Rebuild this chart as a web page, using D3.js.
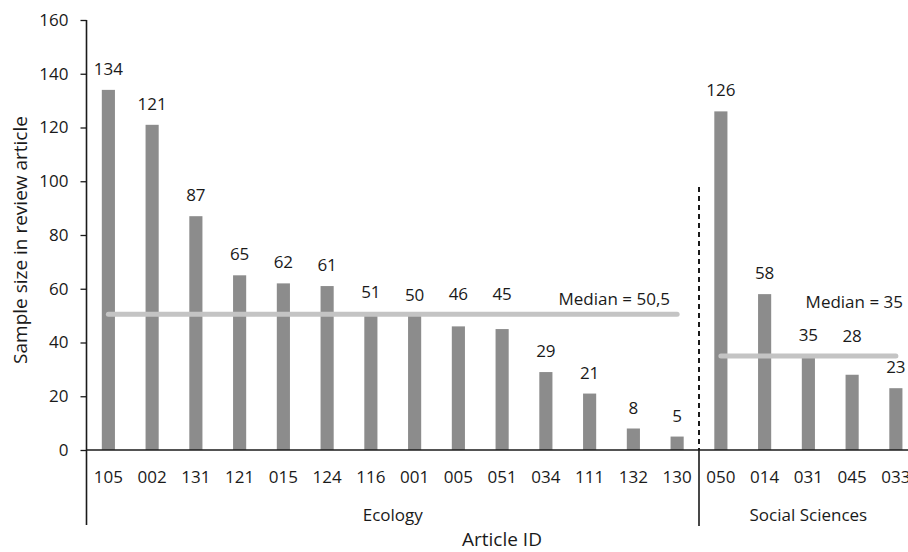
<!DOCTYPE html>
<html>
<head>
<meta charset="utf-8">
<script src="https://cdn.jsdelivr.net/npm/d3@7"></script>
<style>
  body { margin: 0; background: #fff; }
  svg text { font-family: "Open Sans", sans-serif; fill: #1a1a1a; }
</style>
</head>
<body>
<div id="container"></div>
<script>
// data
const ecologyIds = ["105", "002", "131", "121", "015", "124", "116", "001", "005", "051", "034", "111", "132", "130"];
const ecologyValues = [134, 121, 87, 65, 62, 61, 51, 50, 46, 45, 29, 21, 8, 5];
const socialIds = ["050", "014", "031", "045", "033"];
const socialValues = [126, 58, 35, 28, 23];
const groupNames = ["Ecology", "Social Sciences"];
const medians = [50.5, 35];
const medianLabels = ["Median = 50,5", "Median = 35"];
const yTicks = [0, 20, 40, 60, 80, 100, 120, 140, 160];

const width = 908, height = 552;
const fs = 17;

const rows = ecologyIds.map((id, i) => ({ id, value: ecologyValues[i], group: 0 }))
  .concat(socialIds.map((id, i) => ({ id, value: socialValues[i], group: 1 })));

const svg = d3.select("#container")
  .append("svg")
  .attr("width", width)
  .attr("height", height);

// scales
const x = d3.scaleBand()
  .domain(rows.map(d => d.id))
  .range([86.5, 917.75])
  .paddingInner(0.7)
  .paddingOuter(0.35);

const y = d3.scaleLinear()
  .domain([0, 160])
  .range([450, 20]);

const cx = id => x(id) + x.bandwidth() / 2;

// y axis
const yAxis = svg.append("g")
  .attr("transform", "translate(86.5,0)")
  .call(d3.axisLeft(y).tickValues(yTicks).tickSize(6).tickPadding(12));
yAxis.select(".domain").remove();
yAxis.selectAll("line").attr("stroke", "#1a1a1a").attr("stroke-width", 1.3);
yAxis.selectAll("text").attr("font-size", fs).attr("font-family", "Open Sans");

// left axis line runs down past the labels
svg.append("line")
  .attr("x1", 86.5).attr("x2", 86.5)
  .attr("y1", y(160)).attr("y2", 525)
  .attr("stroke", "#1a1a1a").attr("stroke-width", 1.6);

// bars
svg.selectAll(".bar")
  .data(rows)
  .join("rect")
  .attr("class", "bar")
  .attr("x", d => x(d.id))
  .attr("width", x.bandwidth())
  .attr("y", d => y(d.value))
  .attr("height", d => y(0) - y(d.value))
  .attr("fill", "#8c8c8c");

// value labels, lifted above the median line when they would sit on it
function labelY(d) {
  let base = y(d.value) - 15;
  const my = y(medians[d.group]);
  if (base - 12 < my + 3 && base > my - 3) base = my - 14;
  return base;
}
svg.selectAll(".val")
  .data(rows)
  .join("text")
  .attr("class", "val")
  .attr("x", d => cx(d.id))
  .attr("y", labelY)
  .attr("text-anchor", "middle")
  .attr("font-size", fs)
  .text(d => d.value);

// x axis line
svg.append("line")
  .attr("x1", 86.5).attr("x2", width)
  .attr("y1", y(0)).attr("y2", y(0))
  .attr("stroke", "#1a1a1a").attr("stroke-width", 1.6);

// category labels
svg.selectAll(".cat")
  .data(rows)
  .join("text")
  .attr("class", "cat")
  .attr("x", d => cx(d.id))
  .attr("y", 483)
  .attr("text-anchor", "middle")
  .attr("font-size", fs)
  .text(d => d.id);

// group divider
const splitX = x(socialIds[0]) - x.step() * x.paddingInner() / 2;
svg.append("line")
  .attr("x1", splitX).attr("x2", splitX)
  .attr("y1", 187).attr("y2", y(0))
  .attr("stroke", "#1a1a1a").attr("stroke-width", 2)
  .attr("stroke-dasharray", "5,4");
svg.append("line")
  .attr("x1", splitX).attr("x2", splitX)
  .attr("y1", y(0)).attr("y2", 526)
  .attr("stroke", "#1a1a1a").attr("stroke-width", 1.6);

// group names
const groups = [ecologyIds, socialIds];
svg.selectAll(".grp")
  .data(groupNames)
  .join("text")
  .attr("class", "grp")
  .attr("x", (d, i) => {
    const ids = groups[i];
    return (x(ids[0]) - x.step() * 0.35 + x(ids[ids.length - 1]) + x.bandwidth() + x.step() * 0.35) / 2;
  })
  .attr("y", 521)
  .attr("text-anchor", "middle")
  .attr("font-size", fs)
  .text(d => d);

// median lines
svg.selectAll(".median")
  .data(medians)
  .join("line")
  .attr("class", "median")
  .attr("x1", (d, i) => cx(groups[i][0]))
  .attr("x2", (d, i) => cx(groups[i][groups[i].length - 1]))
  .attr("y1", d => y(d)).attr("y2", d => y(d))
  .attr("stroke", "#c4c4c4")
  .attr("stroke-width", 5)
  .attr("stroke-linecap", "round");

svg.selectAll(".medlab")
  .data(medianLabels)
  .join("text")
  .attr("class", "medlab")
  .attr("x", (d, i) => i === 0 ? 670 : 903)
  .attr("y", (d, i) => i === 0 ? y(medians[0]) - 9 : 308)
  .attr("text-anchor", "end")
  .attr("font-size", fs)
  .text(d => d);

// axis titles
svg.append("text")
  .attr("x", 502).attr("y", 546)
  .attr("text-anchor", "middle")
  .attr("font-size", 19)
  .text("Article ID");

svg.append("text")
  .attr("transform", "translate(27,240) rotate(-90)")
  .attr("text-anchor", "middle")
  .attr("font-size", 19)
  .text("Sample size in review article");
</script>
</body>
</html>
